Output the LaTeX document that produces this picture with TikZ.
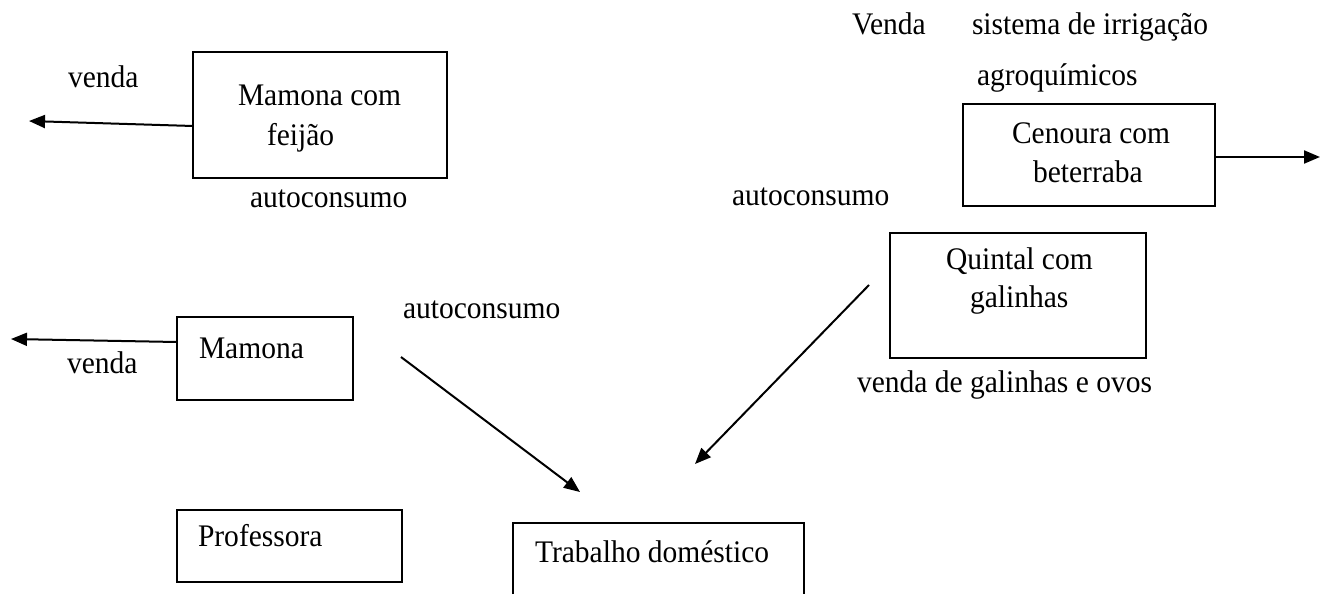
\documentclass[tikz,border=0pt]{standalone}
\usepackage{fontspec}
\setmainfont{Liberation Serif}[FakeStretch=0.94]
\usetikzlibrary{arrows.meta}
\begin{document}
\begin{tikzpicture}[x=1pt,y=-1pt,
  box/.style={draw, line width=1.5pt, rectangle, inner sep=0pt, outer sep=0pt, anchor=north west},
  frame/.style={rectangle, inner sep=0pt, outer sep=0pt, anchor=north west},
  lbl/.style={anchor=base west, inner sep=0pt, outer sep=0pt, font=\fontsize{31.4}{36}\selectfont},
  arr/.style={line width=2pt, -{Triangle[length=16pt,width=13pt]}}]
\useasboundingbox (0,0) rectangle (1329,594);
\fill[white] (0,0) rectangle (1329,594);

% boxes
\node[box, minimum width=254pt, minimum height=126pt] (b1) at (193,52) {};
\node[box, minimum width=252pt, minimum height=102pt] (b2) at (963,104) {};
\node[box, minimum width=256pt, minimum height=125pt] (b3) at (890,233) {};
\node[box, minimum width=176pt, minimum height=83pt] (b4) at (177,317) {};
\node[box, minimum width=225pt, minimum height=72pt] (b5) at (177,510) {};
\node[frame, minimum width=291pt, minimum height=71pt] (b6) at (513,523) {};
\draw[line width=1.5pt] (b6.south west) -- (b6.north west) -- (b6.north east) -- (b6.south east);

% texts
\node[lbl] (t1a) at (238,105) {Mamona com};
\node[lbl] (t1b) at (267,145) {feijão};
\node[lbl] (t2a) at (1012,143) {Cenoura com};
\node[lbl] (t2b) at (1033,182) {beterraba};
\node[lbl] (t3a) at (946,269) {Quintal com};
\node[lbl] (t3b) at (970,307) {galinhas};
\node[lbl] (t4) at (199,358) {Mamona};
\node[lbl] (t5) at (198,546) {Professora};
\node[lbl] (t6) at (535,562) {Trabalho doméstico};

\node[lbl] (l1) at (68,87) {venda};
\node[lbl] (l2) at (250,207) {autoconsumo};
\node[lbl] (l3) at (852,35) {Venda};
\node[lbl] (l4) at (972,35) {sistema de irrigação};
\node[lbl] (l5) at (977,85) {agroquímicos};
\node[lbl] (l6) at (732,205) {autoconsumo};
\node[lbl] (l7) at (857,392) {venda de galinhas e ovos};
\node[lbl] (l8) at (403,318) {autoconsumo};
\node[lbl] (l9) at (67,373) {venda};

% connector ends
\coordinate (e1) at (29,121);
\coordinate (e2) at (1320,157);
\coordinate (e4) at (11,339);
\coordinate (s5) at (401,357);
\coordinate (e5) at (580,492);
\coordinate (s6) at (869,285);
\coordinate (e6) at (695,464);

% connectors
\draw[arr] ([yshift=-11pt]b1.west) -- (e1);
\draw[arr] ([yshift=-2pt]b2.east) -- (e2);
\draw[arr] ([yshift=16.5pt]b4.west) -- (e4);
\draw[arr] (s5) -- (e5);
\draw[arr] (s6) -- (e6);
\end{tikzpicture}
\end{document}
